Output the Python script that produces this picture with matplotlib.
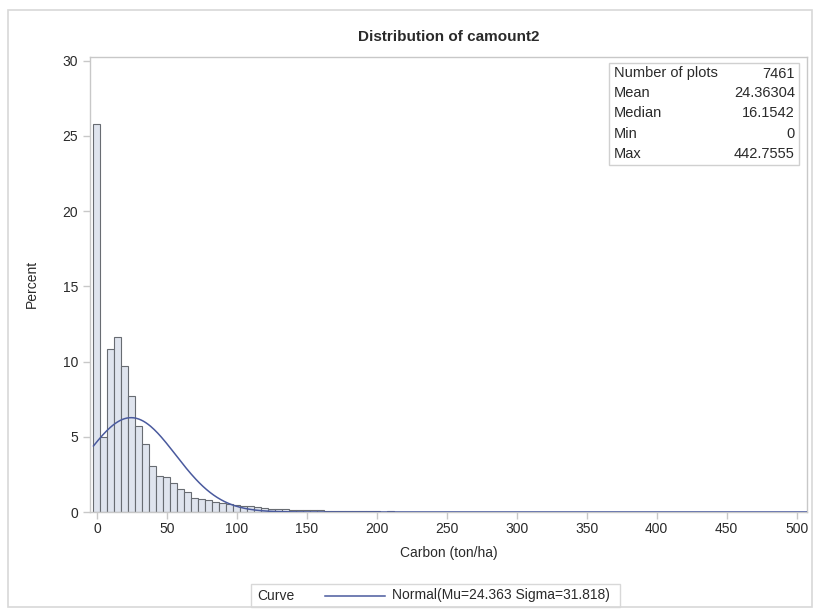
import numpy as np
import matplotlib
matplotlib.use("Agg")
import matplotlib.pyplot as plt
from matplotlib.patches import Rectangle
from matplotlib.lines import Line2D

plt.rcParams["font.family"] = ["Liberation Sans", "DejaVu Sans"]

# histogram of camount2, bin width 5, bins centred on 0, 5, 10, ...
bin_width = 5
percent = [
    25.8, 5.0, 10.8, 11.6, 9.7, 7.7, 5.7, 4.5, 3.05, 2.4,
    2.35, 1.95, 1.5, 1.3, 0.95, 0.85, 0.78, 0.68, 0.58, 0.5,
    0.45, 0.42, 0.38, 0.32, 0.28, 0.22, 0.2, 0.17, 0.15, 0.13,
    0.11, 0.1, 0.12, 0.08, 0.07, 0.06, 0.06, 0.05, 0.05, 0.04,
    0.04, 0.03, 0.04, 0.03, 0.03, 0.01, 0.03, 0.01, 0.01, 0.03,
    0.01, 0.01, 0.0, 0.01, 0.01, 0.0, 0.01, 0.0, 0.0, 0.01,
    0.0, 0.01, 0.0, 0.0, 0.0, 0.01, 0.0, 0.0, 0.0, 0.0,
    0.01, 0.0, 0.0, 0.0, 0.0, 0.0, 0.0, 0.01, 0.0, 0.0,
    0.0, 0.0, 0.0, 0.0, 0.0, 0.0, 0.0, 0.0, 0.01, 0.0,
]
centers = np.arange(len(percent)) * bin_width

mu = 24.363
sigma = 31.818

stat_names = ["Number of plots", "Mean", "Median", "Min", "Max"]
stat_values = ["7461", "24.36304", "16.1542", "0", "442.7555"]

xticks = [0, 50, 100, 150, 200, 250, 300, 350, 400, 450, 500]
yticks = [0, 5, 10, 15, 20, 25, 30]

W, H = 820, 615
fill = "#dfe4ee"
edge = "#686c72"
curve_col = "#4a5a9e"
frame = "#c8c8c8"
txt = "#2a2a2a"

def fx(x):
    return x / W

def fy(y):
    return 1 - y / H

fig = plt.figure(figsize=(W / 100, H / 100), dpi=100)
fig.patches.append(Rectangle((fx(8), fy(607)), fx(804), 597 / H, transform=fig.transFigure,
                             fill=False, edgecolor="#d8d8d8", linewidth=1.2))

ax = fig.add_axes([fx(90), fy(512), fx(807 - 90), (512 - 56.5) / H])
ax.bar(centers, percent, width=bin_width, color=fill, edgecolor=edge, linewidth=0.8, zorder=2)

# fitted normal, scaled to percent per bin
xs = np.linspace(-2.5, 507, 600)
ys = 100 * bin_width * np.exp(-0.5 * ((xs - mu) / sigma) ** 2) / (sigma * np.sqrt(2 * np.pi))
ax.plot(xs, ys, color=curve_col, linewidth=1.1, zorder=3)

ax.set_xlim(-5, 507.4)
ax.set_ylim(0, 30.27)
ax.set_xticks(xticks)
ax.set_yticks(yticks)
for s in ax.spines.values():
    s.set_color(frame)
    s.set_linewidth(1.0)
ax.tick_params(axis="both", colors=frame, labelcolor=txt, labelsize=10, length=5, width=1)
ax.tick_params(axis="x", pad=2.5)
ax.set_xlabel("Carbon (ton/ha)", fontsize=10, color=txt, labelpad=7)
ax.set_ylabel("Percent", fontsize=10, color=txt)
ax.yaxis.set_label_coords(-0.071, 0.5)
ax.set_title("Distribution of camount2", fontsize=11, fontweight="bold", color=txt, pad=11)

# stats inset
fig.patches.append(Rectangle((fx(609), fy(165)), fx(799 - 609), (165 - 62.7) / H,
                             transform=fig.transFigure, fill=True, facecolor="white",
                             edgecolor="#d0d0d0", linewidth=1.0, zorder=5))
row_y = [73.5, 93, 113, 133.5, 154]
for name, val, yy in zip(stat_names, stat_values, row_y):
    fig.text(fx(614), fy(yy), name, fontsize=10.5, color=txt, va="center", ha="left", zorder=6)
    fig.text(fx(795), fy(yy), val, fontsize=10.5, color=txt, va="center", ha="right", zorder=6)

# legend strip at bottom
fig.patches.append(Rectangle((fx(251), fy(606.5)), fx(620 - 251), (606.5 - 584) / H,
                             transform=fig.transFigure, fill=False, edgecolor="#d8d8d8", linewidth=1.0))
fig.text(fx(257), fy(595.5), "Curve", fontsize=10, color=txt, va="center", ha="left")
fig.lines.append(Line2D([fx(325), fx(385)], [fy(595.5), fy(595.5)], transform=fig.transFigure,
                        color=curve_col, linewidth=1.1))
fig.text(fx(392), fy(595.5), "Normal(Mu=24.363 Sigma=31.818)", fontsize=10, color=txt,
         va="center", ha="left")

fig.savefig("out.png", dpi=100)
